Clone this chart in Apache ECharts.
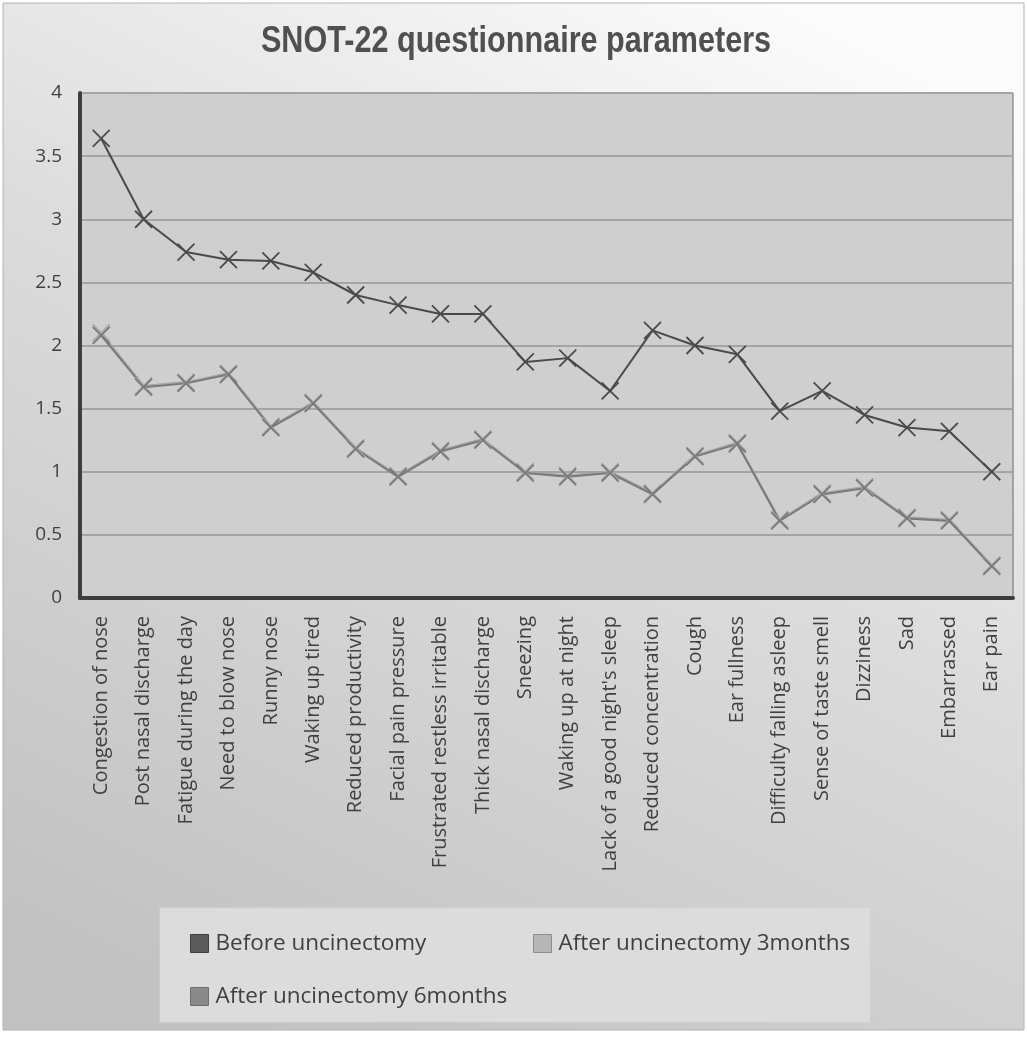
<!DOCTYPE html>
<html>
<head>
<meta charset="utf-8">
<style>
  html, body { margin: 0; padding: 0; background: #ffffff; }
  #chart { width: 1027px; height: 1037px; }
</style>
<script src="https://cdn.jsdelivr.net/npm/echarts@6/dist/echarts.min.js"></script>
</head>
<body>
<div id="chart"></div>
<script>
// SNOT-22 symptom items (mean scores)
const categories = [
  'Congestion of nose', 'Post nasal discharge', 'Fatigue during the day', 'Need to blow nose',
  'Runny nose', 'Waking up tired', 'Reduced productivity', 'Facial pain pressure',
  'Frustrated restless irritable', 'Thick nasal discharge', 'Sneezing', 'Waking up at night',
  "Lack of a good night's sleep", 'Reduced concentration', 'Cough', 'Ear fullness',
  'Difficulty falling asleep', 'Sense of taste smell', 'Dizziness', 'Sad', 'Embarrassed', 'Ear pain'
];

const beforeUncinectomy = [
  3.64, 3.0, 2.74, 2.68, 2.67, 2.58, 2.4, 2.32, 2.25, 2.25, 1.87,
  1.9, 1.64, 2.12, 2.0, 1.93, 1.48, 1.64, 1.45, 1.35, 1.32, 1.0
];

const after3Months = [
  2.1, 1.68, 1.71, 1.78, 1.36, 1.55, 1.19, 0.97, 1.17, 1.26, 1.0,
  0.97, 1.0, 0.83, 1.13, 1.23, 0.62, 0.83, 0.88, 0.64, 0.62, 0.26
];

const after6Months = [
  2.08, 1.67, 1.7, 1.77, 1.35, 1.54, 1.18, 0.96, 1.16, 1.25, 0.99,
  0.96, 0.99, 0.82, 1.12, 1.22, 0.61, 0.82, 0.87, 0.63, 0.61, 0.25
];

const yTicks = { min: 0, max: 4, step: 0.5 };

const seriesNames = ['Before uncinectomy', 'After uncinectomy 3months', 'After uncinectomy 6months'];

const chartTitle = 'SNOT-22 questionnaire parameters';

// X-shaped marker drawn as two stroked diagonals
const crossSymbol = 'path://M0 0L10 10M10 0L0 10';

const chart = echarts.init(document.getElementById('chart'), null, { renderer: 'canvas' });

function lineSeries(name, data, color, width) {
  return {
    name: name,
    type: 'line',
    data: data,
    symbol: crossSymbol,
    symbolSize: 17,
    showAllSymbol: true,
    lineStyle: { color: color, width: width },
    itemStyle: { color: color, borderColor: color, borderWidth: 1.8 },
    emphasis: { disabled: true },
    animation: false
  };
}

const labelFont = '"Open Sans", "Noto Sans", sans-serif';

function legendAt(left, top, name, fill, border) {
  return {
    left: left, top: top,
    orient: 'horizontal',
    icon: 'rect',
    itemWidth: 18, itemHeight: 18, itemGap: 0,
    textStyle: { fontFamily: labelFont, fontSize: 22.5, color: '#404040', padding: [0, 0, 0, 2] },
    selectedMode: false,
    data: [{ name: name, itemStyle: { color: fill, borderColor: border, borderWidth: 1 } }]
  };
}

chart.setOption({
  animation: false,
  graphic: [
    {
      type: 'rect', z: -100, silent: true,
      shape: { x: 3, y: 3, width: 1021, height: 1027 },
      style: {
        fill: new echarts.graphic.LinearGradient(0.75, 0, 0.25, 1, [
          { offset: 0, color: '#fbfbfb' },
          { offset: 0.45, color: '#dcdcdc' },
          { offset: 1, color: '#c2c2c2' }
        ]),
        stroke: '#b4b4b4', lineWidth: 1
      }
    },
    {
      type: 'rect', z: -50, silent: true,
      shape: { x: 160, y: 908, width: 710, height: 114 },
      style: { fill: '#dcdcdc', stroke: '#d6d6d6', lineWidth: 1 }
    },
    {
      // condensed bold heading
      type: 'text', silent: true,
      x: 516, y: 24,
      scaleX: 0.85,
      style: {
        text: chartTitle,
        fill: '#505050',
        font: 'bold 36px "Liberation Sans", Arial, sans-serif',
        textAlign: 'center',
        textVerticalAlign: 'top'
      }
    }
  ],
  legend: [
    legendAt(185, 927, seriesNames[0], '#5a5a5a', '#404040'),
    legendAt(528, 927, seriesNames[1], '#b6b6b6', '#8e8e8e'),
    legendAt(185, 980, seriesNames[2], '#8a8a8a', '#6e6e6e')
  ],
  grid: {
    left: 80, right: 14, top: 93, bottom: 439,
    show: true,
    backgroundColor: '#d0cfd0',
    borderColor: '#6a6a6a',
    borderWidth: 1
  },
  xAxis: {
    type: 'category',
    data: categories,
    boundaryGap: true,
    axisLine: { show: true, lineStyle: { color: '#3e3e3e', width: 4 } },
    axisTick: { show: false },
    axisLabel: {
      interval: 0,
      rotate: 90,
      margin: 18,
      fontFamily: labelFont,
      fontSize: 20,
      color: '#404040'
    },
    splitLine: { show: false }
  },
  yAxis: {
    type: 'value',
    min: yTicks.min,
    max: yTicks.max,
    interval: yTicks.step,
    axisLine: { show: true, lineStyle: { color: '#3e3e3e', width: 4 } },
    axisTick: { show: false },
    axisLabel: {
      margin: 18,
      fontFamily: labelFont,
      fontSize: 19,
      color: '#404040',
      padding: [4, 0, 0, 0]
    },
    splitLine: { show: true, lineStyle: { color: '#a4a4a4', width: 2 } }
  },
  series: [
    lineSeries(seriesNames[1], after3Months, '#a6a6a6', 2),
    lineSeries(seriesNames[2], after6Months, '#7a7a7a', 2),
    lineSeries(seriesNames[0], beforeUncinectomy, '#4a4a4a', 2)
  ]
});
</script>
</body>
</html>
